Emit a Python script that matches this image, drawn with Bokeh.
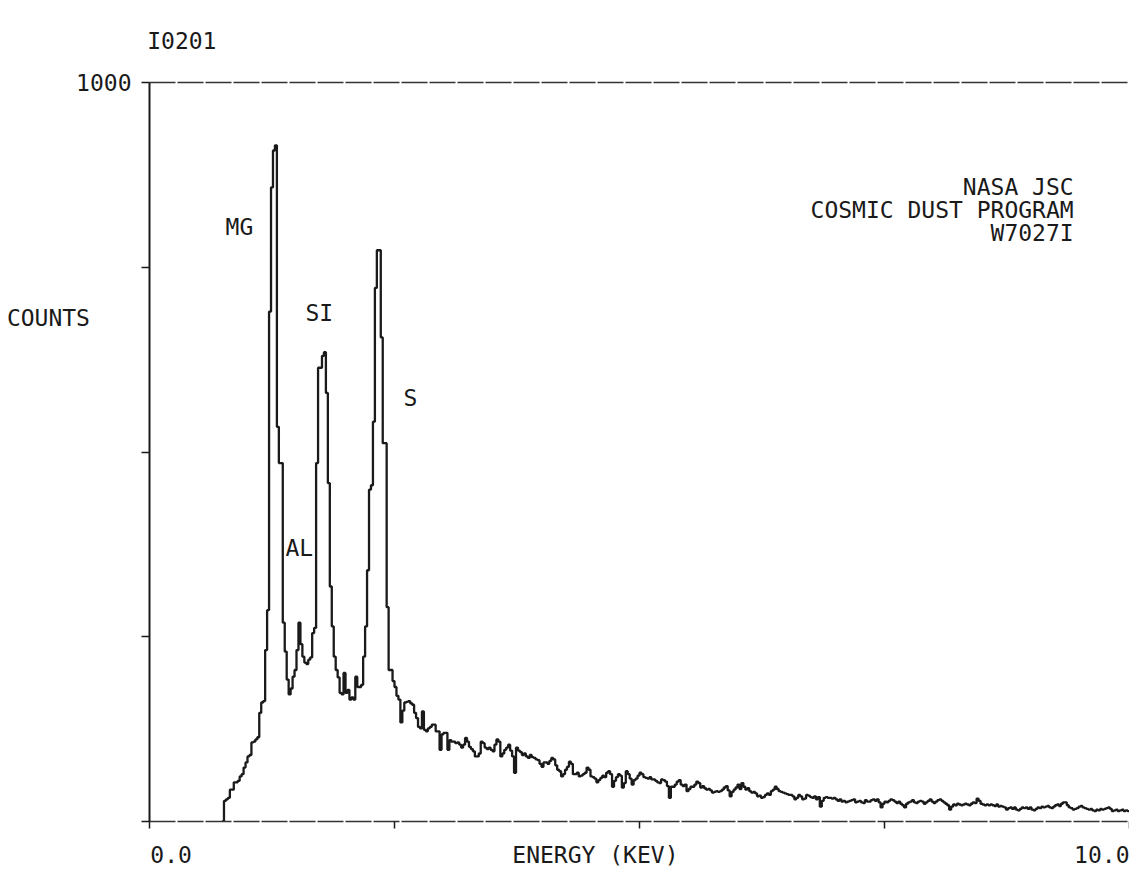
from bokeh.plotting import figure
from bokeh.models import Range1d, LinearAxis, FixedTicker, Label
from bokeh.embed import file_html
from bokeh.resources import INLINE

# ---- data -------------------------------------------------------------
# channel grid of the EDS spectrum (keV)
channel_start = 0.74
channel_width = 0.02

# counts per channel (0.74 keV .. 10.0 keV)
counts_peaks = [  # 0.74 - 2.74 keV (Mg, Al, Si, S peaks)
    0, 28, 30, 32, 43, 43, 53, 53, 55, 61,
    64, 73, 80, 88, 90, 107, 108, 111, 114, 147,
    161, 163, 232, 286, 690, 858, 908, 915, 534, 485,
    485, 269, 230, 192, 172, 180, 196, 205, 232, 269,
    240, 223, 215, 213, 219, 222, 255, 262, 485, 614,
    614, 630, 635, 580, 458, 318, 264, 223, 205, 195,
    174, 172, 201, 174, 178, 165, 168, 165, 196, 182,
    182, 185, 223, 264, 340, 449, 455, 541, 722, 773,
    773, 655, 512, 512, 290, 205, 205, 190, 182, 170,
    165, 134, 150, 161, 162, 163, 160, 158, 147, 140,
]
counts_mid = [  # 2.74 - 6.74 keV
    128, 126, 149, 124, 122, 126, 128, 131, 131, 122,
    122, 97, 118, 120, 120, 97, 110, 108, 108, 106,
    107, 104, 100, 104, 113, 108, 101, 98, 95, 88,
    88, 92, 108, 106, 100, 98, 100, 97, 95, 104,
    111, 108, 88, 92, 97, 100, 104, 96, 88, 66,
    100, 96, 94, 90, 92, 88, 86, 90, 87, 86,
    84, 83, 78, 74, 80, 80, 78, 82, 86, 84,
    76, 70, 68, 61, 64, 70, 74, 81, 78, 64,
    64, 66, 61, 62, 64, 66, 73, 70, 61, 60,
    58, 53, 56, 59, 62, 60, 66, 68, 64, 47,
    55, 60, 64, 62, 46, 52, 68, 64, 58, 50,
    56, 58, 62, 66, 64, 60, 59, 58, 60, 57,
    57, 55, 53, 52, 57, 56, 54, 48, 32, 47,
    47, 50, 54, 56, 50, 48, 50, 41, 44, 47,
    47, 50, 54, 52, 46, 48, 45, 43, 44, 42,
    39, 40, 41, 40, 41, 43, 46, 48, 42, 34,
    40, 43, 46, 50, 44, 52, 47, 43, 45, 41,
    39, 40, 38, 34, 35, 32, 33, 36, 38, 36,
    41, 43, 47, 44, 41, 40, 39, 38, 37, 36,
    36, 34, 30, 32, 36, 34, 30, 31, 36, 35,
]
counts_high = [  # 6.74 - 10.0 keV
    33, 32, 34, 30, 33, 20, 28, 32, 33, 32,
    32, 31, 32, 30, 28, 30, 27, 28, 26, 27,
    28, 29, 30, 26, 27, 28, 26, 25, 29, 27,
    27, 29, 30, 28, 30, 26, 19, 24, 27, 26,
    28, 30, 29, 27, 25, 27, 24, 22, 19, 24,
    26, 27, 29, 26, 25, 27, 28, 27, 24, 26,
    28, 30, 27, 25, 27, 29, 30, 28, 26, 24,
    22, 16, 20, 23, 22, 24, 23, 22, 23, 24,
    23, 22, 24, 26, 25, 31, 28, 24, 23, 22,
    23, 22, 23, 22, 21, 23, 20, 21, 20, 19,
    16, 18, 19, 17, 19, 16, 15, 17, 19, 18,
    19, 17, 19, 16, 15, 17, 19, 18, 20, 19,
    20, 21, 19, 18, 20, 22, 23, 21, 24, 26,
    26, 22, 19, 18, 16, 17, 18, 20, 21, 19,
    18, 17, 16, 17, 15, 14, 16, 15, 17, 16,
    17, 18, 19, 17, 14, 15, 16, 14, 15, 16,
    14, 15, 14,
]

x_ticks = [0, 2.5, 5, 7.5, 10]
y_ticks = [0, 250, 500, 750, 1000]
x_label_zero = "0.0"
x_label_ten = "10.0"
y_label_top = "1000"

element_labels = ["MG", "AL", "SI", "S"]
element_x = [0.776, 1.388, 1.592, 2.592]
element_y = [805, 370, 688, 573]

header_id = "I0201"
info_lines = ["NASA JSC", "COSMIC DUST PROGRAM", "W7027I"]
x_title = "ENERGY (KEV)"
y_title = "COUNTS"

# ---- layout constants (label anchors along the axes) --------------------
ZERO_ANCHOR = 0.22     # keV, centre of the "0.0" text
TITLE_ANCHOR = 4.55    # keV, centre of the x title
TEN_ANCHOR = 9.72      # keV, centre of the "10.0" text
HEADER_ANCHOR = 0.33   # keV, centre of the header id text
COUNTS_ANCHOR = 681    # counts, centre of the y title
NBSP = "\u00a0"

# ---- build ------------------------------------------------------------
counts = counts_peaks + counts_mid + counts_high
energy = [round(channel_start + channel_width * i, 4) for i in range(len(counts))]
energy.append(10.0)
counts_step = counts + [counts[-1]]

FONT = "DejaVu Sans Mono"
FS = "23px"
INK = "#1a1a1a"

p = figure(width=1129, height=870, output_backend="svg", toolbar_location=None,
           x_range=Range1d(0, 10), y_range=Range1d(0, 1000), title=None,
           min_border_left=149, min_border_right=0, min_border_top=82,
           min_border_bottom=48)
p.outline_line_color = None
p.grid.visible = False
p.background_fill_color = "white"
p.border_fill_color = "white"

def style_labels(ax):
    ax.major_label_text_font = FONT
    ax.major_label_text_font_size = FS
    ax.major_label_text_font_style = "normal"
    ax.major_label_text_color = INK

# bottom axis: tick marks as minor ticks, texts as major labels
xa = p.xaxis[0]
xa.ticker = FixedTicker(ticks=[ZERO_ANCHOR, TITLE_ANCHOR, TEN_ANCHOR], minor_ticks=x_ticks)
xa.major_label_overrides = {ZERO_ANCHOR: x_label_zero, TITLE_ANCHOR: x_title,
                            TEN_ANCHOR: x_label_ten}
xa.major_tick_line_color = None
xa.major_tick_in = 0
xa.major_tick_out = 7
xa.major_label_standoff = 13
xa.minor_tick_in = 0
xa.minor_tick_out = 7
xa.minor_tick_line_color = INK
xa.minor_tick_line_width = 1.5
xa.axis_line_color = "#333333"
xa.axis_line_width = 1.5
xa.axis_line_dash = "26 2"
style_labels(xa)

# left axis
ya = p.yaxis[0]
ya.ticker = FixedTicker(ticks=[COUNTS_ANCHOR, 1000], minor_ticks=y_ticks)
ya.major_label_overrides = {COUNTS_ANCHOR: y_title + NBSP * 3, 1000: y_label_top}
ya.major_tick_line_color = None
ya.major_tick_in = 0
ya.major_tick_out = 8
ya.major_label_standoff = 10
ya.minor_tick_in = 0
ya.minor_tick_out = 8
ya.minor_tick_line_color = INK
ya.minor_tick_line_width = 1.5
ya.axis_line_color = INK
ya.axis_line_width = 2
style_labels(ya)

# top border line carrying the header id
top = LinearAxis(ticker=FixedTicker(ticks=[HEADER_ANCHOR]),
                 major_label_overrides={HEADER_ANCHOR: header_id},
                 major_tick_line_color=None, minor_tick_line_color=None,
                 major_tick_out=0, major_tick_in=0, major_label_standoff=29,
                 axis_line_color="#333333", axis_line_width=1.5, axis_line_dash="26 2")
style_labels(top)
p.add_layout(top, "above")

p.step(energy, counts_step, mode="after", line_color=INK, line_width=2.3)

def lab(x, y, text, align="left"):
    p.add_layout(Label(x=x, y=y, text=text, text_font=FONT, text_font_size=FS,
                       text_align=align, text_baseline="middle", text_color=INK))

for t, ex, ey in zip(element_labels, element_x, element_y):
    lab(ex, ey, t)

for i, line in enumerate(info_lines):
    lab(9.43, 858 - 31 * i, line, "right")

open("out.html", "w").write(file_html(p, INLINE))
